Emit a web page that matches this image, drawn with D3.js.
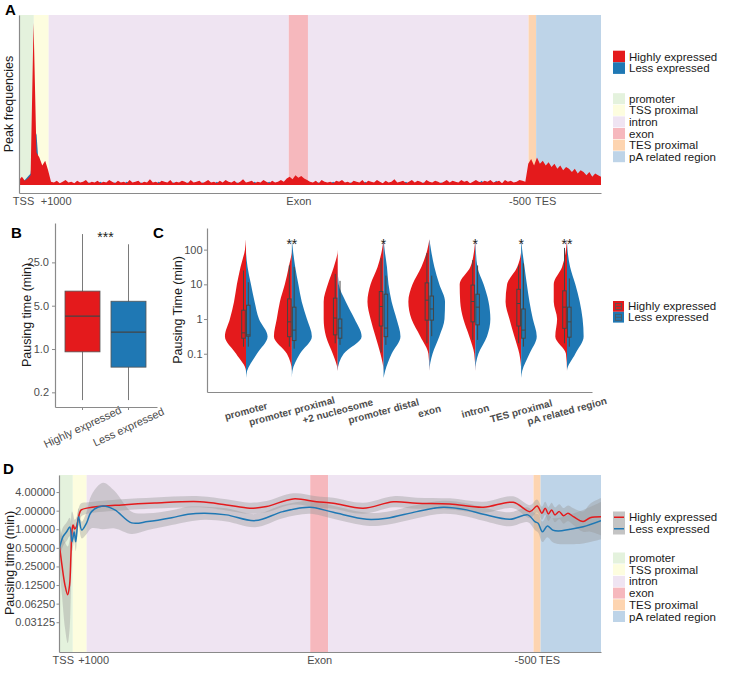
<!DOCTYPE html>
<html>
<head>
<meta charset="utf-8">
<script src="https://cdnjs.cloudflare.com/ajax/libs/d3/7.8.5/d3.min.js"></script>
<style>
  body { margin: 0; background: #fff; }
  svg text { font-family: "Liberation Sans", Arial, Helvetica, sans-serif; }
</style>
</head>
<body>
<svg id="fig" width="729" height="678"></svg>
<script>
// ---- shared metagene layout (percent of metagene length) ----
var zoneNames = ['promoter', 'TSS proximal', 'intron', 'exon', 'TES proximal', 'pA related region'];
var zoneColors = ['#e4f2dd', '#fdfddf', '#efe4f2', '#f6b8bd', '#fdd4b0', '#bed4e8'];
var zoneBreaks = [0, 2.55, 5.1, 46.35, 49.65, 87.55, 88.85, 100];
var zoneOrder = [0, 1, 2, 3, 2, 4, 5];
var metaTicks = [0.7, 6.3, 48, 86.0, 90.4];
var metaLabels = ['TSS', '+1000', 'Exon', '-500', 'TES'];
var groupNames = ['Highly expressed', 'Less expressed'];

// ---- A: peak frequencies along the metagene (201 bins) ----
var peakHigh = [
  3, 5, 2.5, 4, 6,
  100, 20, 17, 12, 15, 9, 2,
  1.5, 2.5, 1, 2, 3, 1.5, 2, 1, 2.5, 1.5,
  2, 3, 1, 2, 1.5, 2.5, 1, 2, 1.5, 3,
  2, 1, 2.5, 1.5, 2, 1, 3, 1.5, 2, 2.5,
  1, 2, 1.5, 3.5, 1.5, 2, 1, 2.5, 2, 1.5,
  3, 1, 2, 1.5, 2.5, 2, 1, 3, 1.5, 2,
  2.5, 1, 2, 3, 1.5, 2, 1, 2.5, 1.5, 3,
  2, 1.5, 2.5, 1, 2, 3.5, 1.5, 2, 2.5, 1,
  2, 1.5, 3, 2, 1, 2.5, 1.5, 2, 3, 2,
  4, 5, 3.5, 6, 4.5, 5.5, 4, 3,
  2, 1.5, 2.5, 1, 3, 2, 1.5, 2, 1, 2.5,
  2, 3, 1.5, 2, 1, 2.5, 2, 1.5, 3, 1,
  2.5, 2, 1.5, 3, 2, 1, 2.5, 1.5, 2, 3.5,
  1.5, 2, 2.5, 1, 2, 3, 1.5, 2.5, 2, 1,
  3, 2, 1.5, 2.5, 2, 1, 2, 3, 1.5, 2.5,
  2, 1.5, 3, 2, 2.5, 1, 2, 3, 2, 1.5,
  2.5, 2, 3, 1.5, 2, 2.5, 1, 3, 2, 2.5,
  1.5, 2, 3, 2.5, 2,
  13, 16, 12,
  17, 13, 15, 12, 14, 11, 13, 10, 12, 9, 11, 10, 8, 10, 7, 9, 8, 6, 8, 5, 7, 6, 5
];
var peakLess = [
  1, 2, 3, 5, 7,
  25, 32, 6, 3, 2, 1.5, 1,
  0.5, 1, 0.5, 1, 0.5, 1, 1.5, 0.5, 1, 0.5,
  1, 0.5, 1.5, 1, 0.5, 1, 2, 0.5, 1, 0.5,
  1, 1.5, 0.5, 1, 0.5, 2, 1, 0.5, 1, 0.5,
  1.5, 0.5, 1, 0.5, 1, 0.5, 2, 1, 0.5, 1,
  0.5, 1.5, 1, 0.5, 1, 0.5, 1.5, 0.5, 1, 1,
  0.5, 1.5, 1, 0.5, 1, 0.5, 2, 0.5, 1, 0.5,
  1, 0.5, 1, 1.5, 0.5, 1, 0.5, 1, 0.5, 2,
  0.5, 1, 0.5, 1, 2, 0.5, 1, 0.5, 1, 0.5,
  2, 3, 2.5, 3, 2, 3.5, 2, 1.5,
  1, 0.5, 1, 1.5, 0.5, 1, 0.5, 1, 2, 0.5,
  1, 0.5, 1, 0.5, 1.5, 1, 0.5, 1, 0.5, 2,
  0.5, 1, 0.5, 1, 1.5, 0.5, 1, 0.5, 1, 0.5,
  1, 0.5, 1, 2, 0.5, 1, 0.5, 1, 0.5, 1.5,
  0.5, 1, 0.5, 1, 0.5, 1.5, 1, 0.5, 1, 0.5,
  1, 0.5, 1, 0.5, 1, 0.5, 1.5, 0.5, 1, 2.5,
  0.5, 1, 0.5, 1, 2.5, 0.5, 1, 0.5, 1, 0.5,
  1, 1.5, 1, 2, 1.5,
  3, 4, 3,
  3, 2.5, 3, 2, 3, 2.5, 2, 3, 2, 2.5, 2, 2, 1.5, 2, 2, 1.5, 2, 1.5, 1.5, 1, 1.5, 1, 1
];

// ---- B: box plot (minutes) ----
var boxLow = [0.15, 0.15];
var boxQ1 = [0.9, 0.51];
var boxMedian = [3.4, 1.88];
var boxQ3 = [8.6, 5.9];
var boxHigh = [71.6, 49];
var boxTicks = [0.2, 1.0, 5.0, 25.0];

// ---- C: split violins ----
var violinCats = ['promoter', 'promoter proximal', '+2 nucleosome', 'promoter distal', 'exon', 'intron', 'TES proximal', 'pA related region'];
var violinGrid = [0.02, 0.0316, 0.1, 0.316, 1, 3.16, 10, 31.6, 100, 200];
var densHigh = [
  [0, 0, .38, .81, .62, .46, .35, .21, .04, 0],
  [0, 0, .19, .69, .58, .46, .27, .12, 0, 0],
  [0, 0, .19, .45, .54, .54, .38, .15, 0, 0],
  [0, 0, .12, .31, .5, .62, .5, .23, .06, 0],
  [0, 0, .04, .35, .69, .81, .65, .31, .08, 0],
  [0, 0, .04, .23, .46, .58, .6, .19, .04, 0],
  [0, 0, .07, .26, .45, .6, .54, .15, 0, 0],
  [0, 0, .04, .45, .38, .51, .51, .19, .04, 0]
];
var densLess = [
  [0, .04, .42, .83, .5, .33, .19, .06, 0, 0],
  [0, .02, .31, .77, .58, .38, .25, .13, .04, 0],
  [0, 0, .23, .92, .65, .31, .04, 0, 0, 0],
  [0, .06, .31, .65, .5, .31, .19, .13, .04, 0],
  [0, 0, .12, .38, .58, .6, .38, .19, .06, 0],
  [0, 0, .12, .45, .58, .51, .32, .08, .02, 0],
  [0, .04, .32, .6, .45, .32, .22, .13, .04, 0],
  [0, 0, .32, .64, .6, .49, .32, .12, .02, 0]
];
// [lower whisker, Q1, median, Q3, upper whisker] in minutes
var statsHigh = [
  [0.16, 0.28, 0.40, 1.8, 25], [0.16, 0.31, 0.83, 3.8, 35], [0.2, 0.35, 1.07, 4.0, 20],
  [0.11, 0.63, 2.3, 6.2, 56], [0.2, 0.93, 3.5, 11, 79], [0.25, 0.83, 3.2, 9.5, 50],
  [0.2, 0.63, 2.8, 7.2, 35], [0.2, 0.54, 2.2, 6.5, 112]
];
var statsLess = [
  [0.16, 0.32, 0.35, 2.5, 11.5], [0.14, 0.24, 0.48, 2.2, 32], [0.18, 0.28, 0.55, 1.0, 12.6],
  [0.18, 0.31, 0.55, 5.2, 17.8], [0.32, 0.93, 1.95, 4.6, 17.8], [0.25, 0.68, 2.2, 5.2, 35],
  [0.16, 0.28, 0.48, 1.95, 40], [0.16, 0.3, 0.83, 2.2, 14.8]
];
var sigMarks = ['', '**', '', '*', '', '*', '*', '**'];
var violinTicks = [0.1, 1, 10, 100];

// ---- D: smoothed pausing time along the metagene ----
var pauseHighPos = [0, 0.55, 1.1, 1.6, 1.95, 2.2, 2.4, 2.6, 2.9, 3.2, 3.5, 3.8, 4.1, 5.4, 11.6, 17.7, 26, 30.9, 35.2, 38.3, 43.2, 47.5, 50.6, 56.1, 61.7, 66, 72.1, 78.3, 83.8, 86.9, 88.2, 89.1, 89.7, 90.3, 90.9, 91.5, 92.3, 93.1, 93.9, 94.9, 96.7, 98, 100];
var pauseHigh = [0.63, 0.26, 0.125, 0.087, 0.125, 0.38, 0.97, 1.17, 1.01, 1.09, 1.41, 1.84, 2.06, 2.22, 2.48, 2.66, 2.79, 2.48, 2.19, 2.33, 3.10, 2.79, 2.64, 2.19, 2.79, 2.64, 2.57, 2.27, 2.73, 1.93, 2.38, 1.82, 2.19, 1.77, 2.06, 1.71, 1.93, 1.65, 1.82, 1.60, 1.33, 1.54, 1.60];
var pauseHighCi = [1.0, 1.6, 2.3, 2.6, 2.4, 1.8, 1.0, 0.6, 0.5, 0.5, 0.45, 0.4, 0.35, 0.3, 0.3, 0.3, 0.3, 0.3, 0.3, 0.3, 0.3, 0.3, 0.3, 0.3, 0.3, 0.3, 0.3, 0.3, 0.32, 0.35, 0.35, 0.35, 0.35, 0.38, 0.38, 0.4, 0.4, 0.42, 0.42, 0.45, 0.55, 0.75, 1.0];
var pauseLessPos = [0, 0.74, 1.4, 2.0, 2.4, 2.8, 3.1, 3.6, 4.2, 5.1, 6.0, 8.1, 10.3, 13.4, 16.4, 20.8, 23.8, 26.9, 30.9, 36.2, 41.3, 46.3, 50.6, 56.8, 60.5, 66, 70.9, 75.2, 78.3, 83.2, 86.5, 87.8, 88.4, 89.2, 90.1, 91.1, 92.1, 94.3, 96.7, 100];
var pauseLess = [0.46, 0.76, 0.91, 1.09, 0.63, 0.90, 0.63, 1.60, 0.97, 1.27, 1.93, 2.38, 2.06, 1.27, 1.33, 1.54, 1.75, 1.82, 1.71, 1.38, 1.93, 2.27, 1.88, 1.45, 1.51, 1.93, 2.27, 2.06, 1.75, 1.45, 1.71, 1.33, 1.25, 0.91, 1.13, 0.97, 0.94, 1.00, 1.10, 1.38];
var pauseLessCi = [0.5, 0.5, 0.5, 0.5, 0.5, 0.5, 0.5, 0.45, 0.45, 0.6, 0.9, 1.25, 1.0, 0.6, 0.45, 0.4, 0.4, 0.35, 0.35, 0.35, 0.35, 0.35, 0.35, 0.35, 0.35, 0.35, 0.35, 0.35, 0.35, 0.38, 0.4, 0.45, 0.5, 0.55, 0.6, 0.65, 0.7, 0.8, 0.9, 1.0];
var pauseTicks = [4, 2, 1, 0.5, 0.25, 0.125, 0.0625, 0.03125];

var RED = '#E41A1C', BLUE = '#1F78B4';
var AXIS = '#8a8a8a', TICKTXT = '#4d4d4d';
var FONT = '"Liberation Sans", Arial, sans-serif';
var LEGEND_SIZE = 11.5;
var svg = d3.select('#fig');

var styleAxis = function(g) {
    g.attr('font-size', 11).attr('font-family', FONT);
    g.selectAll('.domain').attr('stroke', AXIS).attr('stroke-width', 1.2);
    g.selectAll('.tick line').attr('stroke', AXIS);
    g.selectAll('.tick text').attr('fill', TICKTXT);
};

var panelTitle = function(letter, x, y) {
    svg.append('text').attr('x', x).attr('y', y).attr('font-size', 15)
        .attr('font-weight', 'bold').text(letter);
};

var yTitle = function(label, x, y) {
    svg.append('text').attr('transform', 'translate(' + x + ',' + y + ') rotate(-90)')
        .attr('text-anchor', 'middle').attr('dy', '0.35em').attr('font-size', 12.5)
        .attr('fill', '#1a1a1a').text(label);
};

var zoneBands = function(g, xs, yTop, yBot) {
    zoneOrder.forEach(function(z, i) {
        g.append('rect')
            .attr('x', xs(zoneBreaks[i])).attr('width', xs(zoneBreaks[i + 1]) - xs(zoneBreaks[i]))
            .attr('y', yTop).attr('height', yBot - yTop)
            .attr('fill', zoneColors[z]);
    });
};

var zoneLegend = function(x, y0, step) {
    zoneNames.forEach(function(name, i) {
        svg.append('rect').attr('x', x).attr('y', y0 + i * step - 5.5)
            .attr('width', 12).attr('height', 11).attr('fill', zoneColors[i]);
        svg.append('text').attr('x', x + 16).attr('y', y0 + i * step).attr('dy', '0.35em')
            .attr('font-size', LEGEND_SIZE).attr('fill', '#1a1a1a').text(name);
    });
};

var metaAxis = function(xs, y) {
    svg.append('g').attr('transform', 'translate(0,' + y + ')')
        .call(d3.axisBottom(xs).tickValues(metaTicks)
            .tickFormat(function(d, i) { return metaLabels[i]; })
            .tickSize(0).tickSizeOuter(0).tickPadding(4))
        .call(styleAxis);
};

// ================= A =================
var ax = d3.scaleLinear().domain([0, 100]).range([19, 601]);
var ay = d3.scaleLinear().domain([-5, 105]).range([193, 15]);
var gA = svg.append('g');
zoneBands(gA, ax, 15, ay(0));

var peakArea = d3.area()
    .x(function(d, i, arr) { return ax(i * 100 / (arr.length - 1)); })
    .y0(ay(0))
    .y1(function(d) { return ay(d); });
gA.append('path').datum(peakLess).attr('d', peakArea).attr('fill', BLUE);
gA.append('path').datum(peakHigh).attr('d', peakArea).attr('fill', RED);

metaAxis(ax, 193);
svg.append('g').attr('transform', 'translate(19,0)')
    .call(d3.axisLeft(ay).tickValues([]).tickSizeOuter(0)).call(styleAxis);
panelTitle('A', 5, 15);
yTitle('Peak frequencies', 9, 104);

[RED, BLUE].forEach(function(col, i) {
    svg.append('rect').attr('x', 613).attr('y', 50.7 + i * 11.6).attr('width', 12)
        .attr('height', 11.6).attr('fill', col);
    svg.append('text').attr('x', 629).attr('y', 56.5 + i * 11.6).attr('dy', '0.35em')
        .attr('font-size', LEGEND_SIZE).attr('fill', '#1a1a1a').text(groupNames[i]);
});
zoneLegend(613, 98.7, 11.6);

// ================= B =================
var by = d3.scaleLog().domain([0.116, 108]).range([407, 223]);
var bx = d3.scalePoint().domain(groupNames).range([82.5, 128.5]);
var gB = svg.append('g');
groupNames.forEach(function(name, i) {
    var c = bx(name);
    gB.append('line').attr('x1', c).attr('x2', c).attr('y1', by(boxHigh[i])).attr('y2', by(boxLow[i]))
        .attr('stroke', '#7a7a7a').attr('stroke-width', 1);
    gB.append('rect').attr('x', c - 17.5).attr('width', 35)
        .attr('y', by(boxQ3[i])).attr('height', by(boxQ1[i]) - by(boxQ3[i]))
        .attr('fill', i ? BLUE : RED).attr('stroke', '#555').attr('stroke-width', 0.8);
    gB.append('line').attr('x1', c - 17.5).attr('x2', c + 17.5)
        .attr('y1', by(boxMedian[i])).attr('y2', by(boxMedian[i]))
        .attr('stroke', '#444').attr('stroke-width', 1.2);
    svg.append('text').attr('transform', 'translate(' + c + ',427) rotate(-25)')
        .attr('text-anchor', 'middle').attr('dy', '0.35em').attr('font-size', 11)
        .attr('fill', TICKTXT).text(name);
});
svg.append('g').attr('transform', 'translate(55,0)')
    .call(d3.axisLeft(by).tickValues(boxTicks).tickFormat(d3.format('.1f')).tickSize(3).tickPadding(3).tickSizeOuter(0))
    .call(styleAxis);
svg.append('g').attr('transform', 'translate(0,407)')
    .call(d3.axisBottom(d3.scaleLinear().domain([0, 1]).range([55, 157])).tickValues([]).tickSizeOuter(0))
    .call(styleAxis);
groupNames.forEach(function(name) {
    svg.append('line').attr('x1', bx(name)).attr('x2', bx(name)).attr('y1', 407).attr('y2', 410)
        .attr('stroke', AXIS);
});
svg.append('text').attr('x', 105.5).attr('y', 242).attr('text-anchor', 'middle')
    .attr('font-size', 14).attr('fill', '#222').text('***');
panelTitle('B', 11, 238);
yTitle('Pausing time (min)', 27, 315);

// ================= C =================
var cx = d3.scalePoint().domain(violinCats).range([246, 567]);
var cy = d3.scaleLog().domain([0.0079, 420]).range([392, 228]);
var cw = d3.scaleLinear().domain([0, 1]).range([0, 26]);
var gC = svg.append('g');

var miniBox = function(x0, w, s) {
    var mid = x0 + w / 2;
    var ink = { stroke: '#454545', width: 1 };
    gC.append('line').attr('x1', mid).attr('x2', mid).attr('y1', cy(s[4])).attr('y2', cy(s[3]))
        .attr('stroke', ink.stroke).attr('stroke-width', ink.width);
    gC.append('line').attr('x1', mid).attr('x2', mid).attr('y1', cy(s[1])).attr('y2', cy(s[0]))
        .attr('stroke', ink.stroke).attr('stroke-width', ink.width);
    gC.append('rect').attr('x', x0).attr('width', w).attr('y', cy(s[3]))
        .attr('height', cy(s[1]) - cy(s[3])).attr('fill', 'none')
        .attr('stroke', ink.stroke).attr('stroke-width', ink.width);
    gC.append('line').attr('x1', x0).attr('x2', x0 + w).attr('y1', cy(s[2])).attr('y2', cy(s[2]))
        .attr('stroke', ink.stroke).attr('stroke-width', ink.width);
};

violinCats.forEach(function(cat, i) {
    var c = cx(cat);
    [densHigh[i], densLess[i]].forEach(function(dens, g) {
        var sign = g ? 1 : -1;
        var half = d3.area().curve(d3.curveMonotoneY)
            .y(function(d, k) { return cy(violinGrid[k]); })
            .x0(c)
            .x1(function(d) { return c + sign * cw(d); });
        gC.append('path').datum(dens).attr('d', half).attr('fill', g ? BLUE : RED);
    });
    miniBox(c - 4.3, 3.6, statsHigh[i]);
    miniBox(c + 0.5, 3.6, statsLess[i]);
    if (sigMarks[i]) {
        svg.append('text').attr('x', c).attr('y', 249).attr('text-anchor', 'middle')
            .attr('font-size', 14).attr('fill', '#222').text(sigMarks[i]);
    }
    svg.append('text').attr('transform', 'translate(' + c + ',411) rotate(-15)')
        .attr('text-anchor', 'middle').attr('dy', '0.35em').attr('font-size', 10)
        .attr('font-weight', 'bold').attr('fill', TICKTXT).text(cat);
});
svg.append('g').attr('transform', 'translate(207,0)')
    .call(d3.axisLeft(cy).tickValues(violinTicks).tickFormat(function(d) { return String(d); })
        .tickSize(3).tickPadding(1.5).tickSizeOuter(0))
    .call(styleAxis);
svg.append('g').attr('transform', 'translate(0,392)')
    .call(d3.axisBottom(d3.scaleLinear().domain([0, 1]).range([207, 592])).tickValues([]).tickSizeOuter(0))
    .call(styleAxis);
panelTitle('C', 153, 238);
yTitle('Pausing Time (min)', 178, 310);

[RED, BLUE].forEach(function(col, i) {
    var ky = 301 + i * 10.8;
    svg.append('rect').attr('x', 613).attr('y', ky).attr('width', 11).attr('height', 10.8).attr('fill', col);
    svg.append('rect').attr('x', 615.5).attr('y', ky + 2.5).attr('width', 6).attr('height', 6)
        .attr('fill', 'none').attr('stroke', '#555').attr('stroke-width', 0.8);
    svg.append('line').attr('x1', 615.5).attr('x2', 621.5).attr('y1', ky + 5.5).attr('y2', ky + 5.5)
        .attr('stroke', '#555').attr('stroke-width', 0.8);
    svg.append('text').attr('x', 628).attr('y', ky + 5.4).attr('dy', '0.35em')
        .attr('font-size', LEGEND_SIZE).attr('fill', '#1a1a1a').text(groupNames[i]);
});

// ================= D =================
var dx = d3.scaleLinear().domain([0, 100]).range([59, 601]);
var dy = d3.scaleLog().base(2).domain([0.0103, 7.56]).range([652, 475]);
var gD = svg.append('g');
svg.append('clipPath').attr('id', 'clipD').append('rect')
    .attr('x', 59).attr('y', 475).attr('width', 542).attr('height', 177);
zoneBands(gD, dx, 475, 652);

var series = [
    { pos: pauseHighPos, val: pauseHigh, ci: pauseHighCi, col: RED },
    { pos: pauseLessPos, val: pauseLess, ci: pauseLessCi, col: BLUE }
];
var gRib = gD.append('g').attr('clip-path', 'url(#clipD)');
series.forEach(function(s) {
    var band = d3.area().curve(d3.curveCatmullRom.alpha(0.5))
        .x(function(d, i) { return dx(s.pos[i]); })
        .y0(function(d, i) { return dy(d / Math.pow(2, s.ci[i])); })
        .y1(function(d, i) { return dy(d * Math.pow(2, s.ci[i])); });
    gRib.append('path').datum(s.val).attr('d', band).attr('fill', '#999').attr('fill-opacity', 0.4);
});
series.forEach(function(s) {
    var ln = d3.line().curve(d3.curveCatmullRom.alpha(0.5))
        .x(function(d, i) { return dx(s.pos[i]); })
        .y(function(d) { return dy(d); });
    gRib.append('path').datum(s.val).attr('d', ln).attr('fill', 'none')
        .attr('stroke', s.col).attr('stroke-width', 1.5);
});

metaAxis(dx, 652);
svg.append('g').attr('transform', 'translate(59,0)')
    .call(d3.axisLeft(dy).tickValues(pauseTicks).tickFormat(d3.format('.5f'))
        .tickSize(2.5).tickPadding(1.5).tickSizeOuter(0))
    .call(styleAxis);
panelTitle('D', 3, 474);
yTitle('Pausing time (min)', 10, 563);

[RED, BLUE].forEach(function(col, i) {
    var ky = 511.5 + i * 11.5;
    svg.append('rect').attr('x', 613).attr('y', ky).attr('width', 12).attr('height', 11.5).attr('fill', '#c4c4c4');
    svg.append('line').attr('x1', 614).attr('x2', 624).attr('y1', ky + 5.75).attr('y2', ky + 5.75)
        .attr('stroke', col).attr('stroke-width', 1.5);
    svg.append('text').attr('x', 629).attr('y', ky + 5.75).attr('dy', '0.35em')
        .attr('font-size', LEGEND_SIZE).attr('fill', '#1a1a1a').text(groupNames[i]);
});
zoneLegend(613, 558, 11.7);
</script>
</body>
</html>
